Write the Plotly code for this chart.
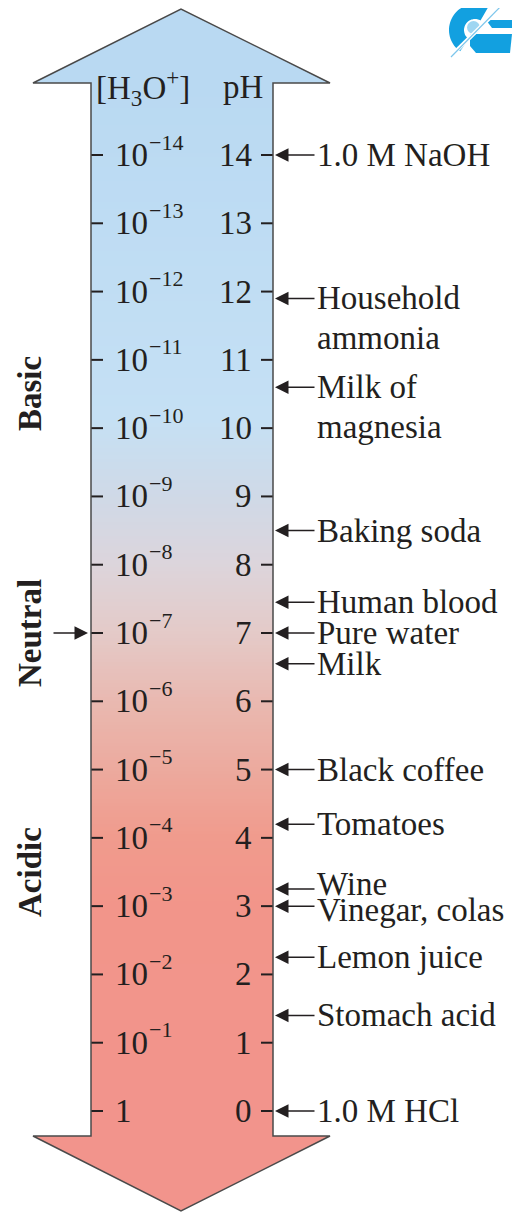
import numpy as np
import plotly.graph_objects as go

# ---------------- data ----------------
ph_ticks = list(range(0, 15))
h3o_mantissa = ["1"] + ["10"] * 14
h3o_exponent = [""] + [f"−{k}" for k in range(1, 15)]
substances = ["1.0 M NaOH", "Household\nammonia", "Milk of\nmagnesia", "Baking soda",
              "Human blood", "Pure water", "Milk", "Black coffee", "Tomatoes", "Wine",
              "Vinegar, colas", "Lemon juice", "Stomach acid", "1.0 M HCl"]
substance_ph = [14.0, 11.9, 10.6, 8.5, 7.45, 7.0, 6.55, 5.0, 4.2, 3.25, 3.0, 2.25, 1.4, 0.0]
regions = ["Basic", "Neutral", "Acidic"]
region_ph = [10.5, 7.0, 3.5]
neutral_ph = 7.0

# ---------------- style / geometry ----------------
W, H = 520, 1212
OFF = 8  # page body margin compensation
PX_PER_PH = (1111 - 155) / 14.0
Y_TOP = 14 + (155 - OFF) / PX_PER_PH
Y_BOT = 0 - (H - 1111) / PX_PER_PH
FONT = "Liberation Serif"
INK = "#231f20"
SHAFT_L, SHAFT_R = 91, 273
HEAD_L, HEAD_R, TIP_X = 33, 330, 181
TOP_BASE, TOP_TIP = 83, 9
BOT_BASE, BOT_TIP = 1136, 1211
text_nudge = {"Wine": 5, "Vinegar, colas": -4}  # px, positive = up


def px_to_ph(py):
    return 14 - (py - 155) / PX_PER_PH


grad = [(83, "#b9d9f2"), (420, "#c5e0f4"), (495, "#cfd9e7"), (563, "#dcd5dc"),
        (633, "#e4cac8"), (700, "#e9b9b1"), (768, "#ecaa9e"), (836, "#f09b8d"),
        (906, "#f2958a"), (1136, "#f2948c")]
cs = [[(p - 83) / (1136 - 83), c] for p, c in grad]

fig = go.Figure()

# gradient shaft (on the pH axis so tick marks draw above it)
N = 300
edges_px = np.linspace(TOP_BASE, BOT_BASE, N + 1)
mids_px = (edges_px[:-1] + edges_px[1:]) / 2
fig.add_trace(go.Heatmap(x=[SHAFT_L, SHAFT_R], y=px_to_ph(edges_px),
                         z=[[m] for m in mids_px],
                         colorscale=cs, zmin=83, zmax=1136, showscale=False,
                         hoverinfo="skip"))

# tick marks
tx, ty = [], []
for p in ph_ticks:
    tx += [SHAFT_L, 103, None, 261, SHAFT_R, None]
    ty += [p, p, None, p, p, None]
fig.add_trace(go.Scatter(x=tx, y=ty, mode="lines", line=dict(color=INK, width=2),
                         hoverinfo="skip", showlegend=False))

shapes = []
shapes.append(dict(type="path", xref="x", yref="y2", layer="below",
                   path=f"M {HEAD_L},{TOP_BASE} L {TIP_X},{TOP_TIP} L {HEAD_R},{TOP_BASE} Z",
                   fillcolor="#b9d9f2", line=dict(width=0)))
shapes.append(dict(type="path", xref="x", yref="y2", layer="below",
                   path=f"M {HEAD_L},{BOT_BASE} L {HEAD_R},{BOT_BASE} L {TIP_X},{BOT_TIP} Z",
                   fillcolor="#f2948c", line=dict(width=0)))
outline = (f"M {SHAFT_L},{BOT_BASE} L {SHAFT_L},{TOP_BASE} L {HEAD_L},{TOP_BASE} "
           f"L {TIP_X},{TOP_TIP} L {HEAD_R},{TOP_BASE} L {SHAFT_R},{TOP_BASE} "
           f"L {SHAFT_R},{BOT_BASE} L {HEAD_R},{BOT_BASE} L {TIP_X},{BOT_TIP} "
           f"L {HEAD_L},{BOT_BASE} Z")
shapes.append(dict(type="path", xref="x", yref="y2", layer="above", path=outline,
                   line=dict(color="#4a4a4a", width=1.5)))

# logo (approximate)
LB = "#12a0e0"
def ring(cx, cy, r1, r2, a0, a1, n=40):
    a = np.radians(np.linspace(a0, a1, n))
    pts = [(cx + r2 * np.cos(t), cy - r2 * np.sin(t)) for t in a]
    pts += [(cx + r1 * np.cos(t), cy - r1 * np.sin(t)) for t in a[::-1]]
    return "M " + " L ".join(f"{x:.1f},{y:.1f}" for x, y in pts) + " Z"
shapes.append(dict(type="path", xref="x", yref="y2", path=ring(475, 30, 11, 26, 60, 235),
                   fillcolor=LB, line=dict(width=0)))
shapes.append(dict(type="circle", xref="x", yref="y2", x0=467, x1=480, y0=21, y1=34,
                   fillcolor="#9fd6f2", line=dict(width=0)))
shapes.append(dict(type="path", xref="x", yref="y2",
                   path="M 486,20 L 512,20 L 512,28 L 492,28 Z", fillcolor=LB, line=dict(width=0)))
shapes.append(dict(type="path", xref="x", yref="y2",
                   path="M 470,34 L 512,34 L 510,53 L 476,53 L 470,46 Z", fillcolor=LB, line=dict(width=0)))
shapes.append(dict(type="line", xref="x", yref="y2", x0=450, y0=57, x1=505, y1=3,
                   line=dict(color="white", width=4)))
shapes.append(dict(type="line", xref="x", yref="y2", x0=451, y0=57, x1=505, y1=2,
                   line=dict(color="#7cc6ec", width=1.2)))

ann = []
base_font = dict(family=FONT, size=33, color=INK)
exp_font = dict(family=FONT, size=22, color=INK)

# headers
ann.append(dict(x=94, y=87, xref="x", yref="y2", text="[H<sub>3</sub>O<sup>+</sup>]",
                xanchor="left", yanchor="middle", showarrow=False, font=base_font))
ann.append(dict(x=221, y=87, xref="x", yref="y2", text="pH",
                xanchor="left", yanchor="middle", showarrow=False, font=base_font))

# left [H3O+] labels and pH numbers
for p, m, e in zip(ph_ticks, h3o_mantissa, h3o_exponent):
    ann.append(dict(x=113, y=p, xref="x", yref="y", text=m, xanchor="left",
                    yanchor="middle", showarrow=False, font=base_font))
    if e:
        ann.append(dict(x=147, y=p, xref="x", yref="y", text=e, xanchor="left",
                        yanchor="middle", showarrow=False, font=exp_font, yshift=13))
    ann.append(dict(x=254, y=p, xref="x", yref="y", text=str(p), xanchor="right",
                    yanchor="middle", showarrow=False, font=base_font))

# substances
for name, p in zip(substances, substance_ph):
    ann.append(dict(x=275, y=p, ax=316, ay=p, xref="x", yref="y", axref="x", ayref="y",
                    text="", showarrow=True, arrowhead=2, arrowsize=1.8, arrowwidth=1.5,
                    arrowcolor=INK, standoff=0, startstandoff=0))
    for i, line in enumerate(name.split("\n")):
        ann.append(dict(x=315, y=p, xref="x", yref="y", text=line, xanchor="left",
                        yanchor="middle", showarrow=False, font=base_font,
                        yshift=-40 * i + text_nudge.get(name, 0)))

# region labels
for name, p in zip(regions, region_ph):
    ann.append(dict(x=30, y=p, xref="x", yref="y", text=f"<b>{name}</b>", textangle=-90,
                    xanchor="center", yanchor="middle", showarrow=False,
                    font=dict(family=FONT, size=33, color=INK)))
ann.append(dict(x=88, y=neutral_ph, ax=52, ay=neutral_ph, xref="x", yref="y",
                axref="x", ayref="y", text="", showarrow=True, arrowhead=2,
                arrowsize=1.8, arrowwidth=1.5, arrowcolor=INK, standoff=0))

fig.update_layout(
    width=W - OFF, height=H - OFF, margin=dict(l=0, r=0, t=0, b=0),
    paper_bgcolor="white", plot_bgcolor="white", showlegend=False,
    xaxis=dict(range=[OFF, W], visible=False, fixedrange=True),
    yaxis=dict(range=[Y_BOT, Y_TOP], visible=False, fixedrange=True),
    yaxis2=dict(range=[H, OFF], visible=False, overlaying="y", fixedrange=True),
    shapes=shapes, annotations=ann,
)
fig.write_html("out.html")
